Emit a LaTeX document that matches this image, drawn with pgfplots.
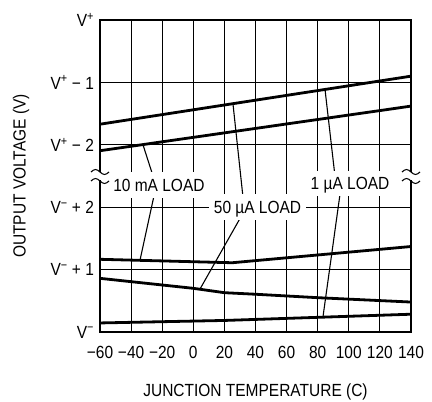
\documentclass[border=0pt]{standalone}
\usepackage{fontspec}
\setmainfont{Liberation Sans}[FakeStretch=0.88]
\usepackage{pgfplots}
\pgfplotsset{compat=1.18}
\newcommand\fs{\fontsize{17.6bp}{20bp}\selectfont}
\begin{document}
\fs
\begin{tikzpicture}[
  lbl/.style={fill=white, inner xsep=5bp, inner ysep=6.5bp, text height=12.6bp, text depth=0bp},
  leader/.style={black, line width=1.1bp},
  thk/.style={black, line width=2.8bp, line join=round, mark=none},
]
\begin{axis}[
  at={(0,0)}, anchor=south west,
  scale only axis, width=311bp, height=312bp,
  xmin=-60, xmax=140, ymin=0, ymax=5,
  xtick={-60,-40,...,140},
  xticklabels={−60,−40,−20,0,20,40,60,80,100,120,140},
  ytick={0,1,2,3,4,5},
  yticklabels={V\textsuperscript{−},
               V\textsuperscript{−} + 1,
               V\textsuperscript{−} + 2,
               V\textsuperscript{+} − 2,
               V\textsuperscript{+} − 1,
               V\textsuperscript{+}},
  xticklabel style={yshift=-8bp},
  major tick length=0pt,
  grid=major,
  grid style={black, line width=1.1bp},
  axis line style={black, line width=1.1bp},
  xlabel={JUNCTION TEMPERATURE (C)},
  ylabel={OUTPUT VOLTAGE (V)},
  xlabel style={at={(axis description cs:0.5,-0.1923)}, anchor=center},
  ylabel style={at={(axis description cs:-0.254,0.5)}, anchor=center},
  clip=false,
]
% upper region: 1 uA / 50 uA and 10 mA
\addplot[thk] coordinates {(-60,3.33) (140,4.10)};
\addplot[thk] coordinates {(-60,2.905) (140,3.62)};
% lower region: 10 mA, 50 uA, 1 uA
\addplot[thk] coordinates {(-60,1.165) (25,1.11) (140,1.37)};
\addplot[thk] coordinates {(-60,0.86) (0,0.70) (20,0.63) (40,0.605) (80,0.55) (140,0.48)};
\addplot[thk] coordinates {(-60,0.145) (20,0.185) (140,0.285)};

% leaders
\draw[leader] (axis cs:-25.9,2.5) -- (axis cs:-32.35,3.0);
\draw[leader] (axis cs:-25.3,2.18) -- (axis cs:-34.3,1.148);
\draw[leader] (axis cs:32.0,2.15) -- (axis cs:25.5,3.66);
\draw[leader] (axis cs:31.3,1.875) -- (axis cs:4.3,0.688);
\draw[leader] (axis cs:91.1,2.5) -- (axis cs:84.7,3.888);
\draw[leader] (axis cs:94.3,2.2) -- (axis cs:83.4,0.243);

\node[lbl] at (axis cs:-22.1,2.356) {10 mA LOAD};
\node[lbl] at (axis cs:41.3,2.0) {50 µA LOAD};
\node[lbl] at (axis cs:100.8,2.38) {1 µA LOAD};
\end{axis}
% axis breaks
\fill[white] (-2bp,151.5bp) rectangle (2bp,159.5bp);
\fill[white] (309bp,151.5bp) rectangle (313bp,159.5bp);
\foreach \x in {0,311}{
  \foreach \y in {151,160}{
    \draw[line width=1.1bp, shift={(\x bp,\y bp)}]
      (-9bp,0) sin (-4.5bp,2.5bp) cos (0,0) sin (4.5bp,-2.5bp) cos (9bp,0);
  }
}
\pgfresetboundingbox
\path[use as bounding box] (-100bp,-70bp) rectangle (332bp,332bp);
\end{tikzpicture}
\end{document}
